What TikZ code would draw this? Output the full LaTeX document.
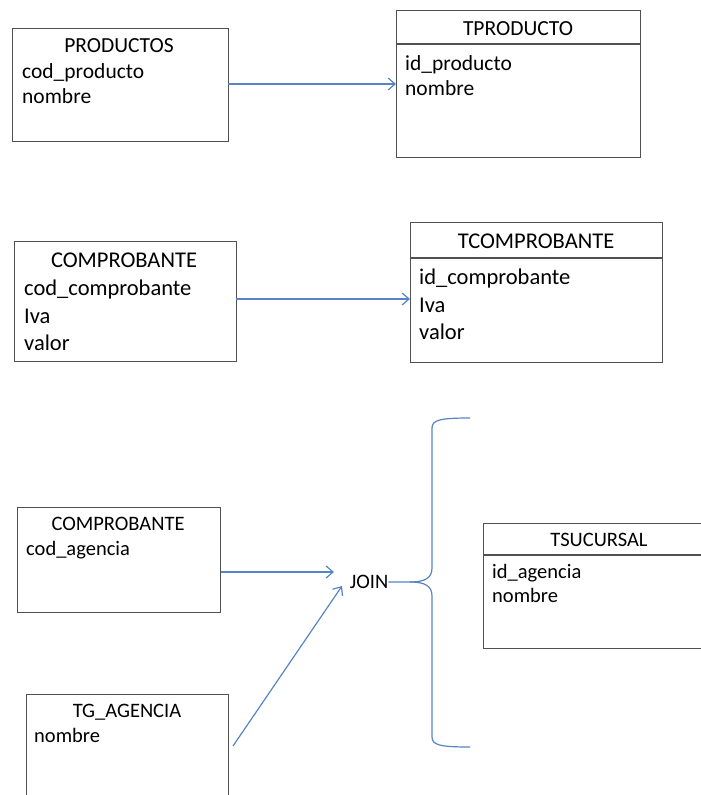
\documentclass[tikz,border=0pt]{standalone}
\usepackage{fontspec}
\setmainfont{Carlito}
\usetikzlibrary{arrows.meta}
\definecolor{boxgray}{RGB}{80,80,80}
\definecolor{linkblue}{RGB}{86,132,196}
\begin{document}
\begin{tikzpicture}[x=1pt,y=-1pt,
  tbl/.style={draw=boxgray, line width=1.3pt, inner sep=0pt, anchor=north west},
  ttl/.style={inner sep=0pt, anchor=base},
  fld/.style={inner sep=0pt, anchor=base west},
  fa/.style={font=\fontsize{21.5}{25}\selectfont},
  fb/.style={font=\fontsize{22.5}{28}\selectfont},
  fc/.style={font=\fontsize{20.5}{25}\selectfont},
  link/.style={draw=linkblue, line width=1.2pt, -{Straight Barb[length=7pt,width=12pt]}},
  brace/.style={draw=linkblue, line width=1.2pt}]
\useasboundingbox (0,0) rectangle (701,795);
\begin{scope}
\clip (0,0) rectangle (701,795);

% PRODUCTOS -> TPRODUCTO
\node[tbl, minimum width=216pt, minimum height=113pt] (productos) at (12,28) {};
\node[ttl, fa] (productos-t) at (119,52) {PRODUCTOS};
\node[fld, fa] (productos-f1) at (22,78) {cod\_producto};
\node[fld, fa] (productos-f2) at (22,103) {nombre};

\node[tbl, minimum width=244pt, minimum height=147pt] (tproducto) at (396,10) {};
\draw[boxgray, line width=1.3pt] (396,44) -- (640,44);
\node[ttl, fa] (tproducto-t) at (518,35) {TPRODUCTO};
\node[fld, fa] (tproducto-f1) at (405,70) {id\_producto};
\node[fld, fa] (tproducto-f2) at (405,95) {nombre};

\coordinate (p1) at (228,84);
\draw[link] (p1) -- (p1 -| tproducto.west);

% COMPROBANTE -> TCOMPROBANTE
\node[tbl, minimum width=222pt, minimum height=120pt] (comprobante) at (14,241) {};
\node[ttl, fb] (comprobante-t) at (124,267) {COMPROBANTE};
\node[fld, fb] (comprobante-f1) at (24,295) {cod\_comprobante};
\node[fld, fb] (comprobante-f2) at (24,323) {Iva};
\node[fld, fb] (comprobante-f3) at (24,350) {valor};

\node[tbl, minimum width=252pt, minimum height=140pt] (tcomprobante) at (410,222) {};
\draw[boxgray, line width=1.3pt] (410,258) -- (662,258);
\node[ttl, fb] (tcomprobante-t) at (536,248) {TCOMPROBANTE};
\node[fld, fb] (tcomprobante-f1) at (419,284) {id\_comprobante};
\node[fld, fb] (tcomprobante-f2) at (419,312) {Iva};
\node[fld, fb] (tcomprobante-f3) at (419,339) {valor};

\coordinate (c1) at (236,299);
\draw[link] (c1) -- (c1 -| tcomprobante.west);

% COMPROBANTE + TG_AGENCIA -> JOIN -> TSUCURSAL
\node[tbl, minimum width=203pt, minimum height=105pt] (comprobante2) at (17,507) {};
\node[ttl, fc] (comprobante2-t) at (118,530) {COMPROBANTE};
\node[fld, fc] (comprobante2-f1) at (26,555) {cod\_agencia};

\node[tbl, minimum width=202pt, minimum height=130pt] (tgagencia) at (26,694) {};
\node[ttl, fc] (tgagencia-t) at (127,717) {TG\_AGENCIA};
\node[fld, fc] (tgagencia-f1) at (34,742) {nombre};

\node[ttl, fc] (join) at (369,588) {JOIN};

\coordinate (j1) at (334,572);
\coordinate (j2) at (342,586);
\coordinate (g1) at (233,746);
\draw[link] (j1 -| comprobante2.east) -- (j1);
\draw[link] (g1) -- (j2);

% brace grouping the join result
\coordinate (tip) at (410,582);
\draw[brace] (470,418) .. controls (440,418) and (432,420) .. (432,428)
  -- (432,568) .. controls (432,578) and (425,582) .. (tip) -- (join.east |- tip);
\draw[brace] (tip) .. controls (425,582) and (432,586) .. (432,596)
  -- (432,737) .. controls (432,745) and (440,747) .. (470,747);

\node[tbl, minimum width=240pt, minimum height=125pt] (tsucursal) at (483,523) {};
\draw[boxgray, line width=1.3pt] (483,555) -- (723,555);
\node[ttl, fc] (tsucursal-t) at (599,546) {TSUCURSAL};
\node[fld, fc] (tsucursal-f1) at (492,578) {id\_agencia};
\node[fld, fc] (tsucursal-f2) at (492,602) {nombre};
\end{scope}
\end{tikzpicture}
\end{document}
